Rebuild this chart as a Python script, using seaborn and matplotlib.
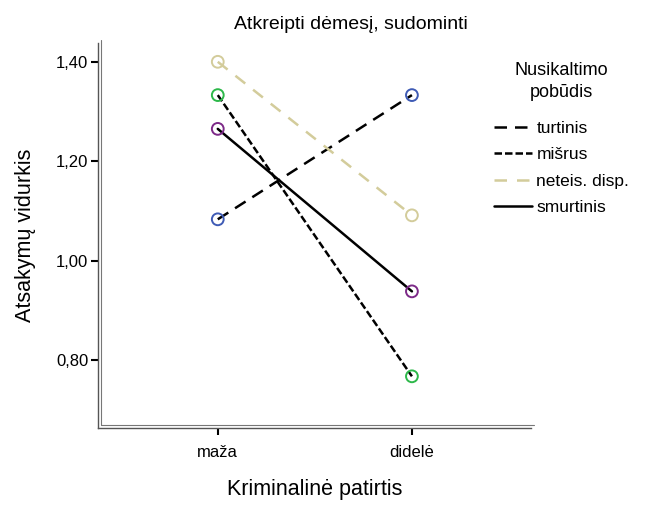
import matplotlib
matplotlib.use("Agg")
from matplotlib import pyplot as plt
from matplotlib.lines import Line2D
import matplotlib.transforms as mtransforms
import pandas as pd
import seaborn as sns

categories = ["maža", "didelė"]
groups = ["turtinis", "mišrus", "neteis. disp.", "smurtinis"]
turtinis = [1.083, 1.333]
misrus = [1.333, 0.767]
neteis = [1.400, 1.091]
smurtinis = [1.265, 0.938]
yticks = [0.80, 1.00, 1.20, 1.40]

line_colors = ["black", "black", "#D3CC9B", "black"]
marker_colors = ["#3F5BB5", "#2DB84A", "#D3CC9B", "#7D2A88"]
line_dashes = [(5, 3.2), (3, 1.2), (5, 4), ""]

rows = []
for g, vals in zip(groups, [turtinis, misrus, neteis, smurtinis]):
    for c, v in zip(categories, vals):
        rows.append({"patirtis": c, "vidurkis": v, "pobudis": g})
df = pd.DataFrame(rows)

sns.set_theme(style="white", rc={"text.color": "black", "axes.labelcolor": "black",
                                 "xtick.color": "black", "ytick.color": "black"})
plt.rcParams["font.family"] = ["Liberation Sans", "DejaVu Sans"]

fig = plt.figure(figsize=(6.55, 5.05), dpi=100)
ax = fig.add_axes([0.1496, 0.1525, 0.81 - 0.1496, 0.915 - 0.1525])

handles = []
for g, lc, mc, d in zip(groups, line_colors, marker_colors, line_dashes):
    sub = df[df["pobudis"] == g]
    sns.lineplot(data=sub, x="patirtis", y="vidurkis", ax=ax, color=lc,
                 linewidth=1.8, dashes=False, sort=False)
    ln = ax.get_lines()[-1]
    if d:
        ln.set_dashes(d)
    sns.scatterplot(data=sub, x="patirtis", y="vidurkis", ax=ax, s=72,
                    marker="o", facecolors="none", edgecolors=mc,
                    linewidths=1.4, zorder=5)
    h = Line2D([], [], color=lc, linewidth=1.8)
    if d:
        h.set_dashes(d)
    handles.append(h)

ax.set_xlim(-0.617, 1.611)
ax.set_ylim(0.663, 1.438)
ax.set_yticks(yticks)
ax.set_yticklabels([f"{t:.2f}".replace(".", ",") for t in yticks])
ax.tick_params(axis="both", direction="out", length=5, width=1.5,
               labelsize=12, left=True, bottom=True)
ax.tick_params(axis="y", pad=2)
ax.tick_params(axis="x", pad=7)

for s in ["top", "right"]:
    ax.spines[s].set_visible(False)
for s in ["left", "bottom"]:
    ax.spines[s].set_color("#555555")
    ax.spines[s].set_linewidth(1.0)
# second line of the double axis frame
off = mtransforms.ScaledTranslation(3 / 100, 3 / 100, fig.dpi_scale_trans)
ax.plot([0, 0], [0, 1], transform=ax.transAxes + off, color="#777777",
        linewidth=0.8, clip_on=False)
ax.plot([0, 1], [0, 0], transform=ax.transAxes + off, color="#777777",
        linewidth=0.8, clip_on=False)

fig.text(0.536, 0.952, "Atkreipti dėmesį, sudominti", fontsize=14,
         ha="center", va="center")
ax.set_xlabel("Kriminalinė patirtis", fontsize=15.5, labelpad=14)
ax.set_ylabel("Atsakymų vidurkis", fontsize=15.5, labelpad=14)

leg = fig.legend(handles, groups, title="Nusikaltimo\npobūdis",
                 loc="upper left", bbox_to_anchor=(0.754, 0.878),
                 frameon=False, fontsize=12.5, title_fontsize=13,
                 handlelength=2.2, handletextpad=0.25, labelspacing=0.65,
                 borderpad=0, borderaxespad=0)
leg.get_title().set_ha("center")
leg.get_title().set_linespacing(1.45)
leg._legend_box.sep = 14

fig.savefig("out.png", dpi=100)
